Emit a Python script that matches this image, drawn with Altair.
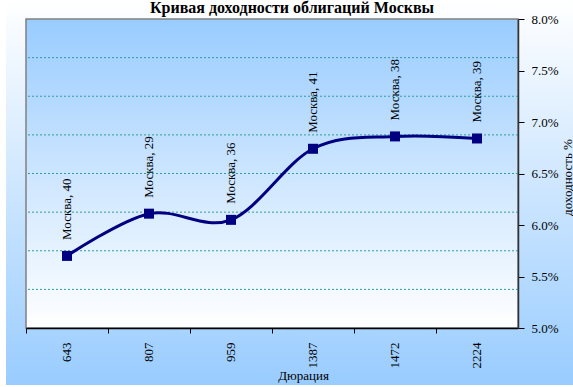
import altair as alt
import pandas as pd

# ---- data ----
durations = ["643", "807", "959", "1387", "1472", "2224"]
yields = [0.0570, 0.0611, 0.0605, 0.0674, 0.0686, 0.0684]
issues = [40, 29, 36, 41, 38, 39]
point_labels = [f"Москва, {n}" for n in issues]
grid_values = [0.05375, 0.0575, 0.06125, 0.065, 0.06875, 0.0725, 0.07625]
y_ticks = [0.05, 0.055, 0.06, 0.065, 0.07, 0.075, 0.08]
title_text = "Кривая доходности облигаций Москвы"
x_title = "Дюрация"
y_title = "доходность %"

W, H = 492, 309
FONT = "Times New Roman, Liberation Serif, DejaVu Serif, serif"
NAVY = "#000080"

df = pd.DataFrame({"dur": durations, "y": yields, "label": point_labels})
grid_df = pd.DataFrame({"y": grid_values})
one = alt.Data(values=[{"k": 0}])

x_enc = alt.X(
    "dur:N",
    sort=durations,
    scale=alt.Scale(type="band", paddingInner=0, paddingOuter=0),
    axis=alt.Axis(
        title=x_title, labelAngle=270, bandPosition=0, zindex=1,
        domainColor="#000000", domainWidth=1.5, tickColor="#000000", tickSize=5,
        labelPadding=9, labelFont=FONT, labelFontSize=13, labelColor="#000000",
        labelOverlap=False, titleFont=FONT, titleFontSize=13, titleFontWeight="normal",
        titleColor="#000000", titleX=277, titleY=47, titleBaseline="middle",
        titleAlign="center", grid=False,
    ),
)
y_enc = alt.Y(
    "y:Q",
    scale=alt.Scale(domain=[0.05, 0.08], nice=False, zero=False),
    axis=alt.Axis(
        orient="right", values=y_ticks, format=".1%", title=y_title, grid=False, zindex=1,
        domainColor="#333333", domainWidth=1.5, tickColor="#000000", tickSize=6,
        labelPadding=7, labelFont=FONT, labelFontSize=13, labelColor="#000000",
        titleFont=FONT, titleFontSize=13, titleFontWeight="normal", titleColor="#000000",
        titleAngle=270, titleX=49, titleY=158, titleAlign="center", titleBaseline="middle",
    ),
)

outer_bg = alt.Chart(one).mark_rect(
    clip=False,
    fill=alt.Gradient(
        gradient="linear", x1=0, y1=0, x2=0, y2=1,
        stops=[alt.GradientStop(color="#FFFFFF", offset=0),
               alt.GradientStop(color="#99CCFF", offset=1)],
    ),
).encode(x=alt.value(-20), x2=alt.value(547), y=alt.value(-19), y2=alt.value(366))

plot_bg = alt.Chart(one).mark_rect(
    stroke="#808080", strokeWidth=1.5,
    fill=alt.Gradient(
        gradient="linear", x1=0, y1=0, x2=0, y2=1,
        stops=[alt.GradientStop(color="#99CCFF", offset=0),
               alt.GradientStop(color="#FFFFFF", offset=1)],
    ),
).encode(x=alt.value(0), x2=alt.value(W), y=alt.value(0), y2=alt.value(H))

grid = alt.Chart(grid_df).mark_rule(
    color="#2E9E9E", strokeDash=[2, 2], strokeWidth=1
).encode(y=y_enc)

line = alt.Chart(df).mark_line(
    color=NAVY, strokeWidth=3, interpolate="cardinal"
).encode(x=x_enc, y=y_enc)

points = alt.Chart(df).mark_point(
    shape="square", filled=True, size=100, color=NAVY, opacity=1
).encode(x=x_enc, y=y_enc)

labels = alt.Chart(df).mark_text(
    angle=270, align="left", baseline="middle", dx=16,
    font=FONT, fontSize=13, color="#000000"
).encode(x=x_enc, y=y_enc, text="label:N")

title = alt.Chart(one).mark_text(
    text=title_text, font=FONT, fontSize=16, fontWeight="bold",
    align="center", baseline="alphabetic", color="#000000", clip=False,
).encode(x=alt.value(266), y=alt.value(-6))

chart = alt.layer(outer_bg, plot_bg, grid, line, points, labels, title).properties(
    width=W, height=H,
    autosize=alt.AutoSizeParams(type="none"),
    padding={"left": 26, "top": 19, "right": 55, "bottom": 59},
    background="#FFFFFF",
).configure_view(stroke=None)

chart.save("out.html", embed_options={"renderer": "svg", "actions": False})
